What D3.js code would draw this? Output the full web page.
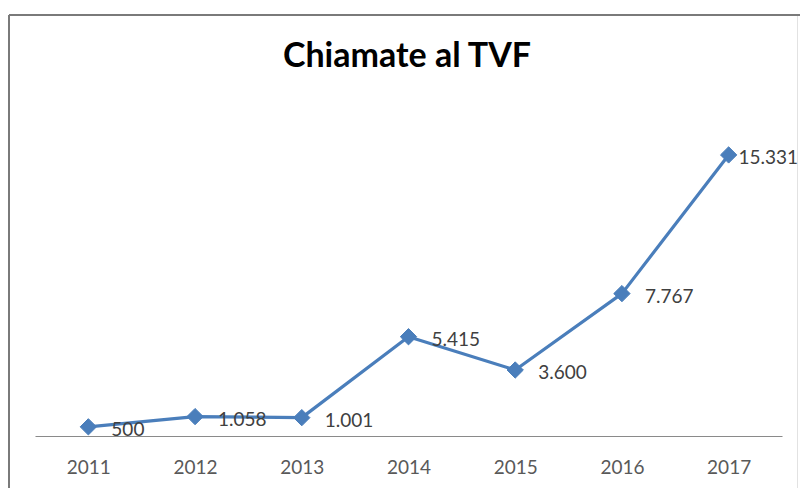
<!DOCTYPE html>
<html>
<head>
<meta charset="utf-8">
<script src="https://cdn.jsdelivr.net/npm/d3@7"></script>
<style>
  html, body { margin: 0; padding: 0; background: #fff; }
  svg { display: block; }
</style>
</head>
<body>
<svg id="chart" width="800" height="488"></svg>
<script>
const title = "Chiamate al TVF";
const years = ["2011", "2012", "2013", "2014", "2015", "2016", "2017"];
const calls = [500, 1058, 1001, 5415, 3600, 7767, 15331];
const valueLabels = ["500", "1.058", "1.001", "5.415", "3.600", "7.767", "15.331"];

const data = years.map((y, i) => ({ year: y, value: calls[i], label: valueLabels[i] }));

const W = 800, H = 488;
const svg = d3.select("#chart");

// frame
svg.append("line").attr("x1", 9).attr("y1", 15).attr("x2", 800).attr("y2", 15)
  .attr("stroke", "#7a7a7a").attr("stroke-width", 2);
svg.append("line").attr("x1", 9).attr("y1", 15).attr("x2", 9).attr("y2", 488)
  .attr("stroke", "#7a7a7a").attr("stroke-width", 2);
svg.append("line").attr("x1", 797.5).attr("y1", 16).attr("x2", 797.5).attr("y2", 488)
  .attr("stroke", "#e2e2e2").attr("stroke-width", 1);

const x = d3.scalePoint().domain(years).range([35, 782]).padding(0.5);
const y = d3.scaleLinear().domain([0, 18000]).range([436, 106]);

// title
svg.append("text")
  .attr("x", 407).attr("y", 67)
  .attr("text-anchor", "middle")
  .attr("font-family", "Lato, 'Open Sans', sans-serif")
  .attr("font-weight", "bold")
  .attr("font-size", 34)
  .attr("fill", "#000")
  .text(title);

// x axis
const xAxis = d3.axisBottom(x).tickSize(0).tickSizeOuter(0).tickPadding(25);
const gx = svg.append("g").attr("transform", "translate(0,436)").call(xAxis);
gx.select(".domain").attr("stroke", "#8a8a8a").attr("stroke-width", 1.2);
gx.selectAll("text")
  .attr("font-family", "Lato, 'Open Sans', sans-serif")
  .attr("font-size", 19)
  .attr("fill", "#595959");

// line
const line = d3.line().x(d => x(d.year)).y(d => y(d.value));
svg.append("path").datum(data)
  .attr("d", line)
  .attr("fill", "none")
  .attr("stroke", "#4a7ebb")
  .attr("stroke-width", 3.2)
  .attr("stroke-linejoin", "round");

// markers
svg.selectAll(".marker").data(data).enter().append("path")
  .attr("class", "marker")
  .attr("transform", d => `translate(${x(d.year)},${y(d.value)})`)
  .attr("d", d3.symbol().type(d3.symbolDiamond2).size(170)())
  .attr("fill", "#4a7ebb")
  .attr("stroke", "#4a7ebb")
  .attr("stroke-width", 1);

// data labels
const labels = svg.selectAll(".lbl").data(data).enter().append("text")
  .attr("class", "lbl")
  .attr("font-family", "Lato, 'Open Sans', sans-serif")
  .attr("font-size", 19)
  .attr("fill", "#404040")
  .attr("y", d => y(d.value) + 9)
  .text(d => d.label);
labels.each(function(d) {
  const w = this.getComputedTextLength();
  const px = x(d.year) + 23;
  d3.select(this).attr("x", Math.min(px, 798 - w));
});
</script>
</body>
</html>
